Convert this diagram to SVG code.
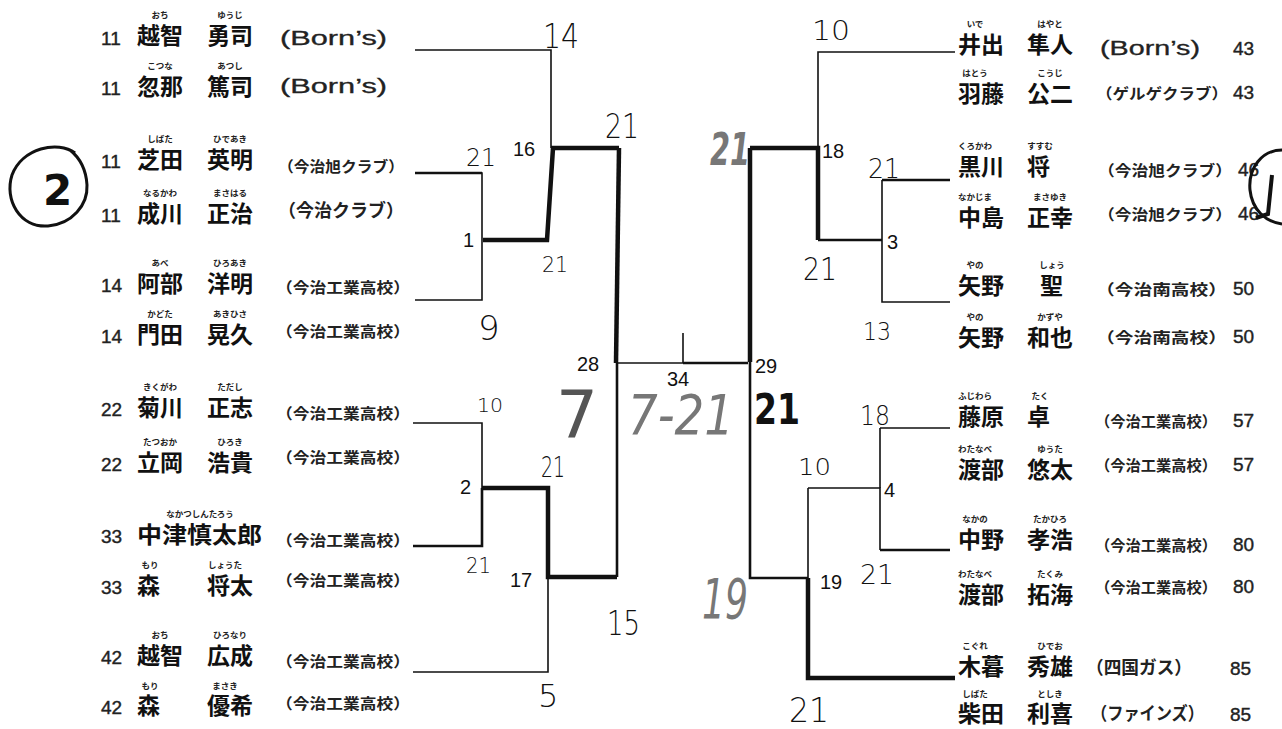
<svg xmlns="http://www.w3.org/2000/svg" width="1282" height="729" viewBox="0 0 1282 729">
<style>
.num{font-family:"Liberation Sans",Arial,sans-serif;font-size:19px;fill:#222;stroke:#222;stroke-width:0.4}
.nm{font-family:"Noto Sans CJK JP","Noto Sans CJK SC",sans-serif;font-size:23px;font-weight:bold;fill:#111}
.fu{font-family:"Noto Sans CJK JP","Noto Sans CJK SC",sans-serif;font-size:8.5px;font-weight:bold;fill:#222;text-anchor:middle}
.tm{font-family:"Noto Sans CJK JP","Noto Sans CJK SC",sans-serif;font-size:15px;font-weight:bold;fill:#222}
.bn{font-family:"Liberation Sans",Arial,sans-serif;font-size:20px;fill:#222;stroke:#222;stroke-width:0.3}
.ml{font-family:"Liberation Sans",Arial,sans-serif;font-size:20px;fill:#111}
.hw{font-family:"DejaVu Sans",sans-serif;font-weight:200;fill:#111}
.hg{font-family:"DejaVu Sans",sans-serif;fill:#777}
.thin{fill:none;stroke:#111;stroke-width:1.6}
.mid{fill:none;stroke:#111;stroke-width:2.6}
.thick{fill:none;stroke:#111;stroke-width:4.5}
</style>
<rect width="1282" height="729" fill="#fff"/>

<g id="connectors">
  <path class="thin" d="M415,50 H551 V148"/>
  <path class="thick" d="M551,148 H619"/>
  <path class="thick" d="M619,148 L616,363"/>
  <path class="thick" d="M553,148 L547,240 H483"/>
  <path class="thin" d="M415,173 H482 V300 H415"/>
  <path class="mid" d="M415,173 H482"/>
  <path class="thin" d="M413,423 H482 V488"/>
  <path class="mid" d="M482,488 V546 H413"/>
  <path class="thick" d="M482,488 H548 V577 H617"/>
  <path class="thin" d="M548,577 V672 H413"/>
  <path class="mid" d="M617,363 V577"/>
  <path class="thin" d="M617,363 H683"/>
  <path class="mid" d="M683,363 H748"/>
  <path class="thin" d="M683,333 V363"/>
  <path class="thin" d="M955,52 H818 V148"/>
  <path class="thick" d="M750,148 H818 V240"/>
  <path class="mid" d="M818,240 H882"/>
  <path class="thin" d="M882,180 V302 H950"/>
  <path class="mid" d="M882,180 H950"/>
  <path class="thick" d="M750,148 V362"/>
  <path class="mid" d="M750,362 V578 H808"/>
  <path class="thin" d="M808,488 V578"/>
  <path class="thick" d="M808,578 V678 H955"/>
  <path class="thin" d="M808,488 H880 V550"/>
  <path class="thin" d="M880,428 V488 M880,428 H950"/>
  <path class="mid" d="M880,550 H950"/>
</g>

<g id="left-players">
  <g id="L1"><text class="num" x="101" y="45">11</text><text class="fu" x="160" y="18">おち</text><text class="fu" x="230" y="18">ゆうじ</text><text class="nm" x="137" y="44">越智</text><text class="nm" x="207" y="44">勇司</text><text class="bn" x="280" y="45" textLength="107" lengthAdjust="spacingAndGlyphs">(Born’s)</text></g>
  <g id="L2"><text class="num" x="101" y="95">11</text><text class="fu" x="160" y="69">こつな</text><text class="fu" x="230" y="69">あつし</text><text class="nm" x="137" y="95">忽那</text><text class="nm" x="207" y="95">篤司</text><text class="bn" x="280" y="93" textLength="107" lengthAdjust="spacingAndGlyphs">(Born’s)</text></g>
  <g id="L3"><text class="num" x="101" y="168">11</text><text class="fu" x="160" y="142">しばた</text><text class="fu" x="230" y="142">ひであき</text><text class="nm" x="137" y="168">芝田</text><text class="nm" x="207" y="168">英明</text><text class="tm" x="278" y="172" textLength="126" lengthAdjust="spacingAndGlyphs">（今治旭クラブ）</text></g>
  <g id="L4"><text class="num" x="101" y="222">11</text><text class="fu" x="160" y="196">なるかわ</text><text class="fu" x="230" y="196">まさはる</text><text class="nm" x="137" y="222">成川</text><text class="nm" x="207" y="222">正治</text><text class="tm" x="278" y="217" style="font-size:18px" textLength="126" lengthAdjust="spacingAndGlyphs">（今治クラブ）</text></g>
  <g id="L5"><text class="num" x="101" y="292">14</text><text class="fu" x="160" y="266">あべ</text><text class="fu" x="230" y="266">ひろあき</text><text class="nm" x="137" y="292">阿部</text><text class="nm" x="207" y="292">洋明</text><text class="tm" x="276" y="293" textLength="134" lengthAdjust="spacingAndGlyphs">（今治工業高校）</text></g>
  <g id="L6"><text class="num" x="101" y="343">14</text><text class="fu" x="160" y="317">かどた</text><text class="fu" x="230" y="317">あきひさ</text><text class="nm" x="137" y="343">門田</text><text class="nm" x="207" y="343">晃久</text><text class="tm" x="276" y="337" textLength="134" lengthAdjust="spacingAndGlyphs">（今治工業高校）</text></g>
  <g id="L7"><text class="num" x="101" y="416">22</text><text class="fu" x="160" y="390">きくがわ</text><text class="fu" x="230" y="390">ただし</text><text class="nm" x="137" y="416">菊川</text><text class="nm" x="207" y="416">正志</text><text class="tm" x="276" y="419" textLength="134" lengthAdjust="spacingAndGlyphs">（今治工業高校）</text></g>
  <g id="L8"><text class="num" x="101" y="471">22</text><text class="fu" x="160" y="445">たつおか</text><text class="fu" x="230" y="445">ひろき</text><text class="nm" x="137" y="471">立岡</text><text class="nm" x="207" y="471">浩貴</text><text class="tm" x="276" y="463" textLength="134" lengthAdjust="spacingAndGlyphs">（今治工業高校）</text></g>
  <g id="L9"><text class="num" x="101" y="543">33</text><text class="fu" x="200" y="517">なかつしんたろう</text><text class="nm" x="137" y="543" textLength="125" lengthAdjust="spacingAndGlyphs">中津慎太郎</text><text class="tm" x="276" y="546" textLength="134" lengthAdjust="spacingAndGlyphs">（今治工業高校）</text></g>
  <g id="L10"><text class="num" x="101" y="594">33</text><text class="fu" x="150" y="568">もり</text><text class="fu" x="225" y="568">しょうた</text><text class="nm" x="137" y="594">森</text><text class="nm" x="207" y="594">将太</text><text class="tm" x="276" y="586" textLength="134" lengthAdjust="spacingAndGlyphs">（今治工業高校）</text></g>
  <g id="L11"><text class="num" x="101" y="664">42</text><text class="fu" x="160" y="638">おち</text><text class="fu" x="230" y="638">ひろなり</text><text class="nm" x="137" y="664">越智</text><text class="nm" x="207" y="664">広成</text><text class="tm" x="276" y="667" textLength="134" lengthAdjust="spacingAndGlyphs">（今治工業高校）</text></g>
  <g id="L12"><text class="num" x="101" y="714">42</text><text class="fu" x="150" y="689">もり</text><text class="fu" x="225" y="689">まさき</text><text class="nm" x="137" y="714">森</text><text class="nm" x="207" y="714">優希</text><text class="tm" x="276" y="709" textLength="134" lengthAdjust="spacingAndGlyphs">（今治工業高校）</text></g>
</g>

<g id="right-players">
  <g id="R1"><text class="fu" x="975" y="27">いで</text><text class="fu" x="1050" y="27">はやと</text><text class="nm" x="958" y="53">井出</text><text class="nm" x="1027" y="53">隼人</text><text class="bn" x="1100" y="55" textLength="100" lengthAdjust="spacingAndGlyphs">(Born’s)</text><text class="num" x="1233" y="55">43</text></g>
  <g id="R2"><text class="fu" x="975" y="76">はとう</text><text class="fu" x="1050" y="76">こうじ</text><text class="nm" x="958" y="102">羽藤</text><text class="nm" x="1027" y="102">公二</text><text class="tm" x="1096" y="99" textLength="132" lengthAdjust="spacingAndGlyphs">（ゲルゲクラブ）</text><text class="num" x="1233" y="99">43</text></g>
  <g id="R3"><text class="fu" x="975" y="149">くろかわ</text><text class="fu" x="1040" y="149">すすむ</text><text class="nm" x="958" y="175">黒川</text><text class="nm" x="1027" y="175">将</text><text class="tm" x="1098" y="176" textLength="134" lengthAdjust="spacingAndGlyphs">（今治旭クラブ）</text><text class="num" x="1238" y="176">46</text></g>
  <g id="R4"><text class="fu" x="975" y="200">なかじま</text><text class="fu" x="1050" y="200">まさゆき</text><text class="nm" x="958" y="226">中島</text><text class="nm" x="1027" y="226">正幸</text><text class="tm" x="1098" y="220" textLength="134" lengthAdjust="spacingAndGlyphs">（今治旭クラブ）</text><text class="num" x="1238" y="220">46</text></g>
  <g id="R5"><text class="fu" x="975" y="268">やの</text><text class="fu" x="1052" y="268">しょう</text><text class="nm" x="958" y="294">矢野</text><text class="nm" x="1040" y="294">聖</text><text class="tm" x="1096" y="295" textLength="131" lengthAdjust="spacingAndGlyphs">（今治南高校）</text><text class="num" x="1233" y="295">50</text></g>
  <g id="R6"><text class="fu" x="975" y="320">やの</text><text class="fu" x="1050" y="320">かずや</text><text class="nm" x="958" y="346">矢野</text><text class="nm" x="1027" y="346">和也</text><text class="tm" x="1096" y="343" textLength="131" lengthAdjust="spacingAndGlyphs">（今治南高校）</text><text class="num" x="1233" y="343">50</text></g>
  <g id="R7"><text class="fu" x="975" y="399">ふじわら</text><text class="fu" x="1040" y="399">たく</text><text class="nm" x="958" y="425">藤原</text><text class="nm" x="1027" y="425">卓</text><text class="tm" x="1095" y="427" textLength="122" lengthAdjust="spacingAndGlyphs">（今治工業高校）</text><text class="num" x="1233" y="427">57</text></g>
  <g id="R8"><text class="fu" x="975" y="452">わたなべ</text><text class="fu" x="1050" y="452">ゆうた</text><text class="nm" x="958" y="478">渡部</text><text class="nm" x="1027" y="478">悠太</text><text class="tm" x="1095" y="471" textLength="122" lengthAdjust="spacingAndGlyphs">（今治工業高校）</text><text class="num" x="1233" y="471">57</text></g>
  <g id="R9"><text class="fu" x="975" y="522">なかの</text><text class="fu" x="1050" y="522">たかひろ</text><text class="nm" x="958" y="548">中野</text><text class="nm" x="1027" y="548">孝浩</text><text class="tm" x="1095" y="551" textLength="122" lengthAdjust="spacingAndGlyphs">（今治工業高校）</text><text class="num" x="1233" y="551">80</text></g>
  <g id="R10"><text class="fu" x="975" y="577">わたなべ</text><text class="fu" x="1050" y="577">たくみ</text><text class="nm" x="958" y="603">渡部</text><text class="nm" x="1027" y="603">拓海</text><text class="tm" x="1095" y="593" textLength="122" lengthAdjust="spacingAndGlyphs">（今治工業高校）</text><text class="num" x="1233" y="593">80</text></g>
  <g id="R11"><text class="fu" x="975" y="649">こぐれ</text><text class="fu" x="1050" y="649">ひでお</text><text class="nm" x="958" y="675">木暮</text><text class="nm" x="1027" y="675">秀雄</text><text class="tm" x="1086" y="674" style="font-size:18px" textLength="106" lengthAdjust="spacingAndGlyphs">（四国ガス）</text><text class="num" x="1230" y="675">85</text></g>
  <g id="R12"><text class="fu" x="975" y="697">しばた</text><text class="fu" x="1050" y="697">としき</text><text class="nm" x="958" y="722">柴田</text><text class="nm" x="1027" y="722">利喜</text><text class="tm" x="1091" y="720" style="font-size:18px" textLength="113" lengthAdjust="spacingAndGlyphs">（ファインズ）</text><text class="num" x="1230" y="721">85</text></g>
</g>

<g id="match-numbers">
  <text class="ml" x="513" y="156">16</text>
  <text class="ml" x="463" y="247">1</text>
  <text class="ml" x="460" y="494">2</text>
  <text class="ml" x="510" y="587">17</text>
  <text class="ml" x="577" y="371">28</text>
  <text class="ml" x="667" y="386">34</text>
  <text class="ml" x="755" y="373">29</text>
  <text class="ml" x="822" y="158">18</text>
  <text class="ml" x="887" y="249">3</text>
  <text class="ml" x="884" y="497">4</text>
  <text class="ml" x="820" y="589">19</text>
</g>

<g id="handwritten-scores">
  <text class="hw" x="543" y="48" style="font-size:34px" textLength="36" lengthAdjust="spacingAndGlyphs">14</text>
  <text class="hw" x="466" y="166" style="font-size:24px" textLength="30" lengthAdjust="spacingAndGlyphs">21</text>
  <text class="hw" x="605" y="138" style="font-size:34px" textLength="34" lengthAdjust="spacingAndGlyphs">21</text>
  <text class="hw" x="542" y="272" style="font-size:22px" textLength="26" lengthAdjust="spacingAndGlyphs">21</text>
  <text class="hw" x="478" y="340" style="font-size:34px">9</text>
  <text class="hw" x="477" y="412" style="font-size:19px" textLength="26" lengthAdjust="spacingAndGlyphs">10</text>
  <text class="hw" x="541" y="477" style="font-size:28px" textLength="24" lengthAdjust="spacingAndGlyphs">21</text>
  <text class="hw" x="466" y="573" style="font-size:21px" textLength="25" lengthAdjust="spacingAndGlyphs">21</text>
  <text class="hw" x="538" y="707" style="font-size:32px">5</text>
  <text class="hw" x="607" y="635" style="font-size:34px" textLength="33" lengthAdjust="spacingAndGlyphs">15</text>
  <text x="556" y="438" style="font-family:'DejaVu Sans',sans-serif;font-size:66px;fill:#555" textLength="42" lengthAdjust="spacingAndGlyphs">7</text>
  <text class="hg" x="628" y="434" style="font-size:56px;font-style:italic" textLength="106" lengthAdjust="spacingAndGlyphs">7-21</text>
  <text class="hg" x="710" y="165" style="font-size:44px;font-weight:bold;font-style:italic" textLength="40" lengthAdjust="spacingAndGlyphs">21</text>
  <text class="hw" x="812" y="40" style="font-size:26px" textLength="38" lengthAdjust="spacingAndGlyphs">10</text>
  <text class="hw" x="868" y="178" style="font-size:27px" textLength="32" lengthAdjust="spacingAndGlyphs">21</text>
  <text class="hw" x="803" y="280" style="font-size:32px" textLength="34" lengthAdjust="spacingAndGlyphs">21</text>
  <text class="hw" x="863" y="340" style="font-size:25px" textLength="28" lengthAdjust="spacingAndGlyphs">13</text>
  <text class="hw" x="754" y="424" style="font-size:42px;font-weight:bold" textLength="46" lengthAdjust="spacingAndGlyphs">21</text>
  <text class="hw" x="860" y="425" style="font-size:26px" textLength="30" lengthAdjust="spacingAndGlyphs">18</text>
  <text class="hw" x="798" y="475" style="font-size:23px" textLength="33" lengthAdjust="spacingAndGlyphs">10</text>
  <text class="hw" x="860" y="584" style="font-size:26px" textLength="34" lengthAdjust="spacingAndGlyphs">21</text>
  <text class="hg" x="702" y="618" style="font-size:56px;font-style:italic" textLength="46" lengthAdjust="spacingAndGlyphs">19</text>
  <text class="hw" x="789" y="722" style="font-size:34px" textLength="40" lengthAdjust="spacingAndGlyphs">21</text>
</g>

<g id="circled-ranks">
  <path d="M75,153 C58,140 22,148 12,175 C4,200 20,228 48,226 C72,224 88,205 87,185 C86,168 80,158 70,150" fill="none" stroke="#111" stroke-width="3"/>
  <text x="43" y="205" style="font-family:'DejaVu Sans',sans-serif;font-size:42px;font-weight:bold;fill:#111">2</text>
  <path d="M1282,150 C1262,150 1248,168 1250,190 C1252,210 1266,222 1282,224" fill="none" stroke="#111" stroke-width="3"/>
  <path d="M1272,175 L1268,214 L1256,218" fill="none" stroke="#111" stroke-width="4"/>
</g>
</svg>
